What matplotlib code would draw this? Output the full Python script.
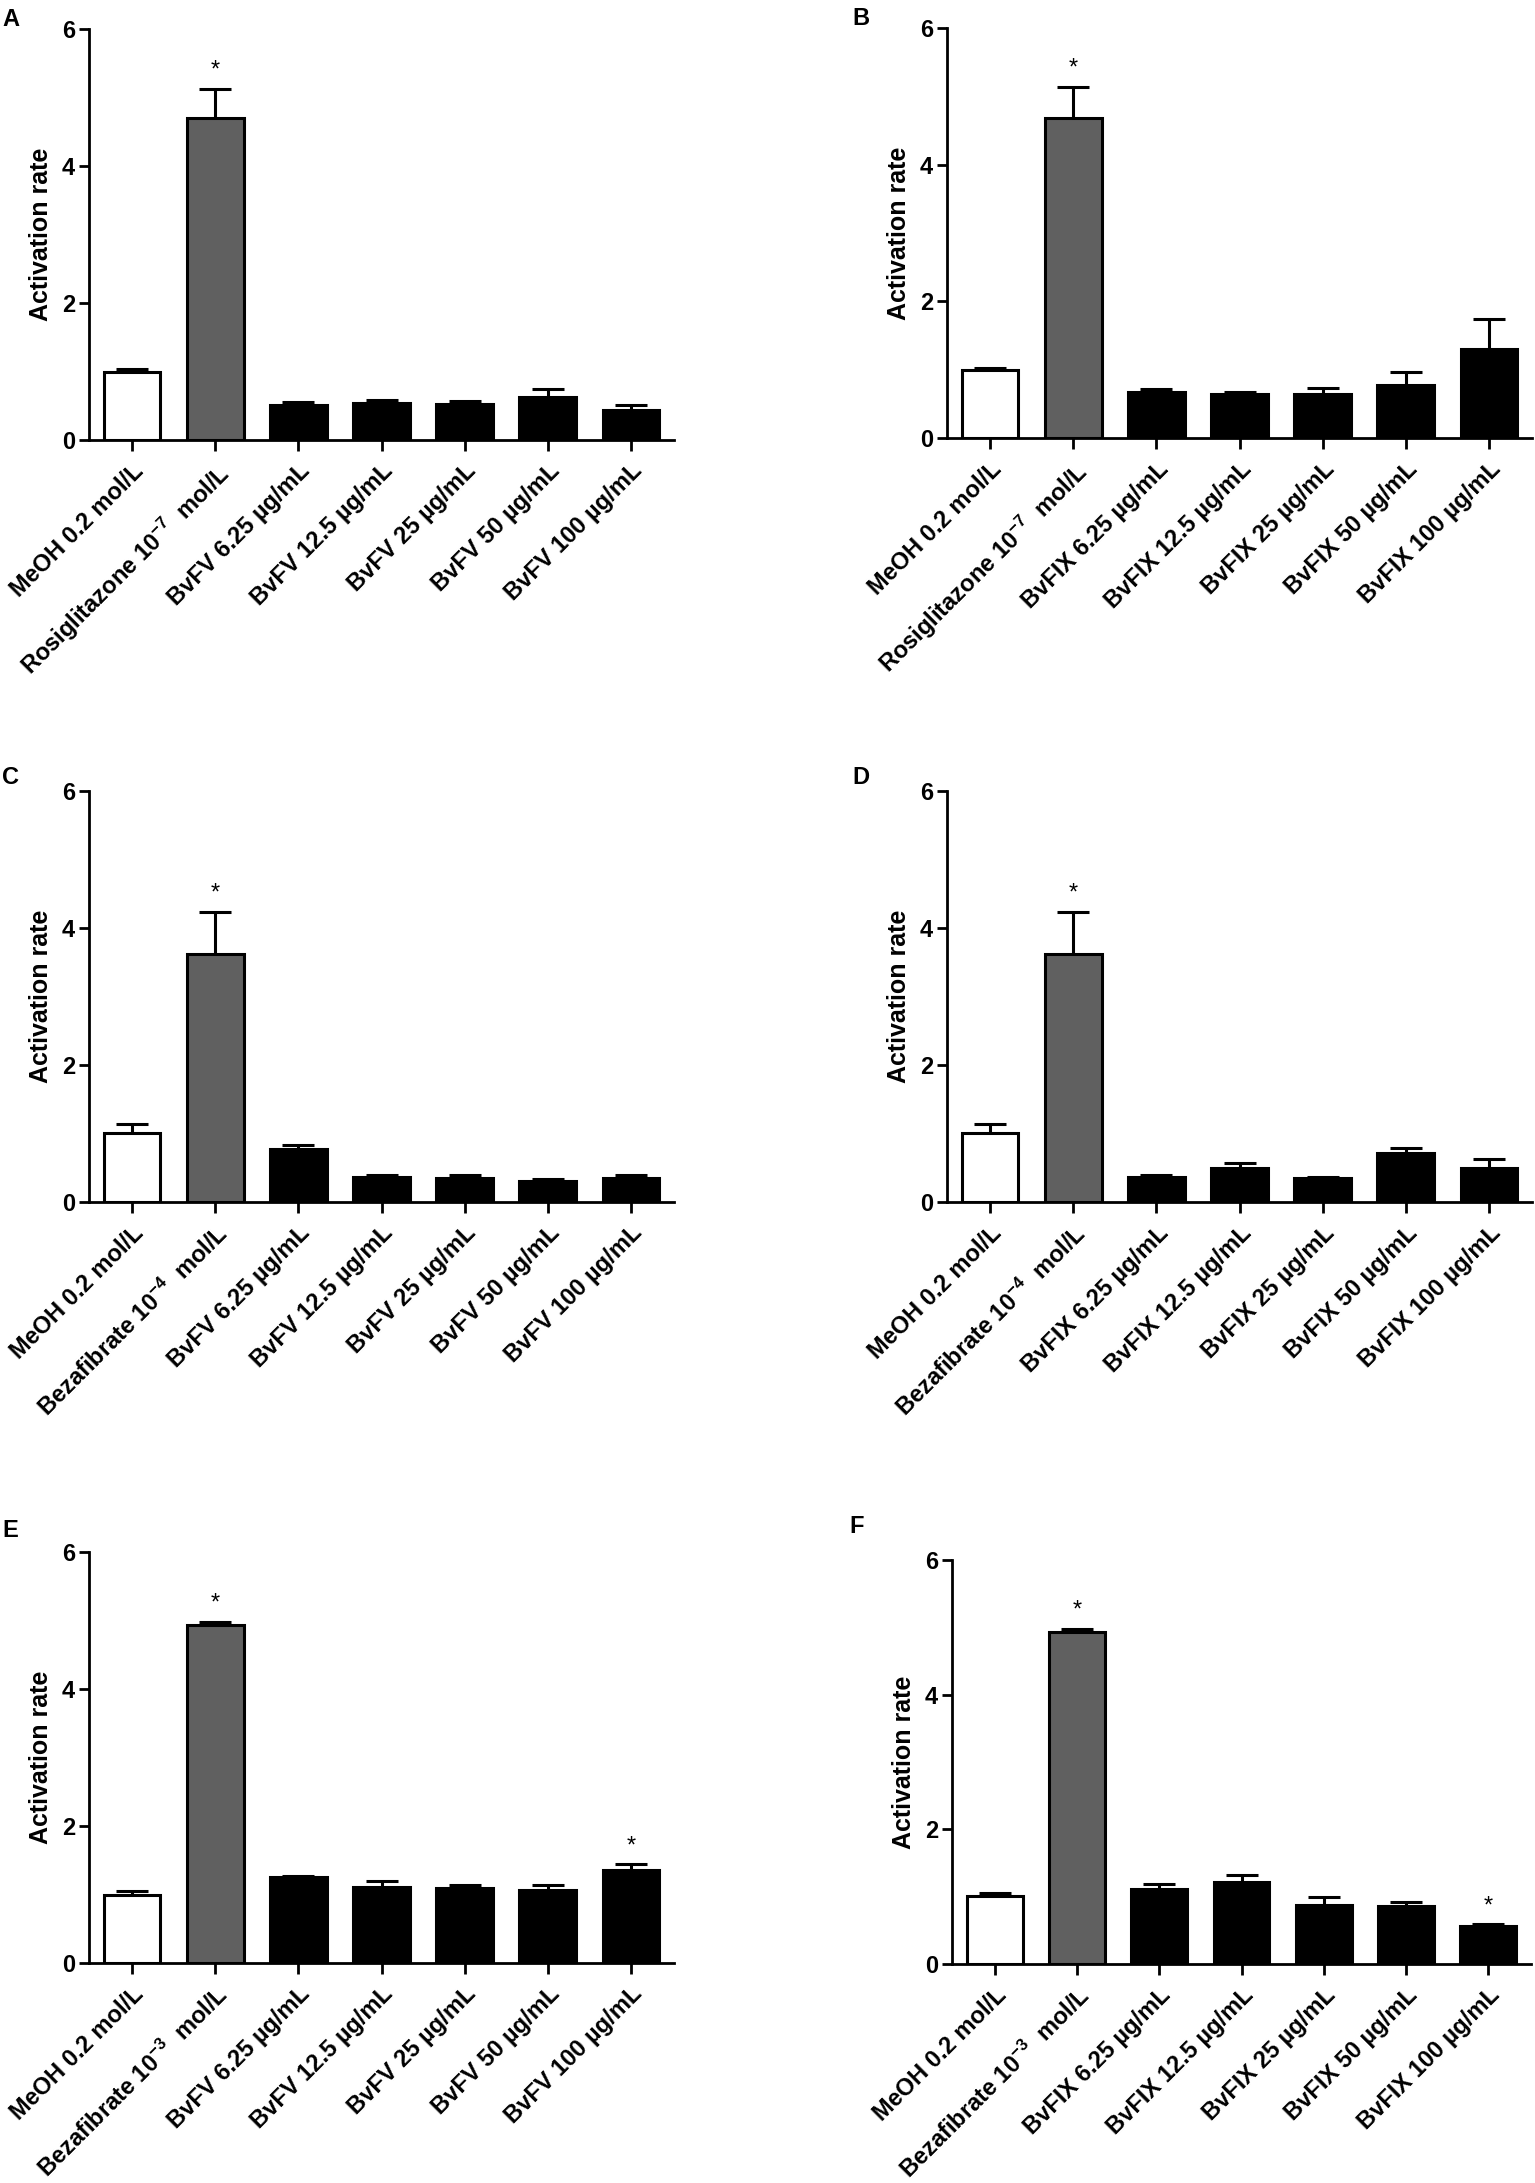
import matplotlib
matplotlib.use("Agg")
from matplotlib import pyplot as plt

# ---- data -------------------------------------------------------------
labels_fv_rosi = ["MeOH 0.2 mol/L", r"Rosiglitazone 10$^{-7}$  mol/L",
                  "BvFV 6.25 µg/mL", "BvFV 12.5 µg/mL", "BvFV 25 µg/mL",
                  "BvFV 50 µg/mL", "BvFV 100 µg/mL"]
labels_fix_rosi = ["MeOH 0.2 mol/L", r"Rosiglitazone 10$^{-7}$  mol/L",
                   "BvFIX 6.25 µg/mL", "BvFIX 12.5 µg/mL", "BvFIX 25 µg/mL",
                   "BvFIX 50 µg/mL", "BvFIX 100 µg/mL"]
labels_fv_beza4 = ["MeOH 0.2 mol/L", r"Bezafibrate 10$^{-4}$  mol/L"] + labels_fv_rosi[2:]
labels_fix_beza4 = ["MeOH 0.2 mol/L", r"Bezafibrate 10$^{-4}$  mol/L"] + labels_fix_rosi[2:]
labels_fv_beza3 = ["MeOH 0.2 mol/L", r"Bezafibrate 10$^{-3}$  mol/L"] + labels_fv_rosi[2:]
labels_fix_beza3 = ["MeOH 0.2 mol/L", r"Bezafibrate 10$^{-3}$  mol/L"] + labels_fix_rosi[2:]

mean_a = [1.00, 4.70, 0.51, 0.54, 0.53, 0.63, 0.44]
err_a = [0.03, 0.43, 0.04, 0.04, 0.04, 0.11, 0.07]
mean_b = [1.00, 4.69, 0.68, 0.65, 0.65, 0.78, 1.30]
err_b = [0.03, 0.45, 0.04, 0.03, 0.08, 0.19, 0.44]
mean_c = [1.01, 3.62, 0.77, 0.37, 0.35, 0.31, 0.35]
err_c = [0.13, 0.62, 0.06, 0.03, 0.05, 0.02, 0.05]
mean_d = [1.01, 3.62, 0.37, 0.49, 0.35, 0.72, 0.49]
err_d = [0.13, 0.62, 0.03, 0.08, 0.01, 0.07, 0.14]
mean_e = [1.00, 4.93, 1.25, 1.11, 1.10, 1.07, 1.36]
err_e = [0.05, 0.05, 0.02, 0.08, 0.04, 0.07, 0.08]
mean_f = [1.01, 4.93, 1.12, 1.22, 0.88, 0.86, 0.57]
err_f = [0.05, 0.05, 0.07, 0.10, 0.12, 0.06, 0.02]

stars_abcd = [1]
stars_ef = [1, 6]

# ---- style ------------------------------------------------------------
plt.rcParams["font.family"] = ["Liberation Sans", "DejaVu Sans"]
plt.rcParams["font.weight"] = "bold"
plt.rcParams["mathtext.fontset"] = "custom"
plt.rcParams["mathtext.rm"] = "Liberation Sans:bold"
plt.rcParams["mathtext.it"] = "Liberation Sans:bold"
plt.rcParams["mathtext.bf"] = "Liberation Sans:bold"
plt.rcParams["mathtext.default"] = "rm"

W, H = 1535, 2183
fig = plt.figure(figsize=(W / 100, H / 100), dpi=100)

bar_colors = ["white", "#606060"] + ["black"] * 5


def add_panel(left, right, top, bottom, letter, lx, ly, labels, means, errs, stars):
    ax = fig.add_axes([left / W, 1 - bottom / H, (right - left) / W, (bottom - top) / H])
    x = list(range(len(means)))
    ax.errorbar(x, means, yerr=errs, fmt="none", ecolor="black",
                elinewidth=2.2, capsize=11.5, capthick=2.2, zorder=1)
    ax.bar(x, means, width=0.68, color=bar_colors, edgecolor="black",
           linewidth=2.2, zorder=2)
    for i in stars:
        ax.text(i, means[i] + errs[i] + 0.1, "*", ha="center", va="bottom",
                fontsize=17, fontweight="normal")
    ax.set_xlim(-0.52, 6.52)
    ax.set_ylim(0, 6)
    ax.set_yticks([0, 2, 4, 6])
    ax.set_xticks(x)
    ax.set_xticklabels(labels, rotation=45, ha="right", rotation_mode="anchor",
                       fontsize=17, fontweight="bold")
    ax.tick_params(axis="x", length=8, width=2, pad=6)
    ax.tick_params(axis="y", length=7, width=2, pad=3, labelsize=17)
    for s in ["top", "right"]:
        ax.spines[s].set_visible(False)
    for s in ["left", "bottom"]:
        ax.spines[s].set_linewidth(2)
    ax.set_ylabel("Activation rate", fontsize=18, fontweight="bold")
    ax.yaxis.set_label_coords(-0.062, 0.5)
    fig.text(lx / W, 1 - ly / H, letter, ha="left", va="top",
             fontsize=17, fontweight="bold")
    return ax


add_panel(89, 674, 29, 440, "A", 2, 8, labels_fv_rosi, mean_a, err_a, stars_abcd)
add_panel(947, 1532, 28, 438, "B", 852, 7, labels_fix_rosi, mean_b, err_b, stars_abcd)
add_panel(89, 674, 791, 1202, "C", 2, 766, labels_fv_beza4, mean_c, err_c, stars_abcd)
add_panel(947, 1532, 791, 1202, "D", 852, 766, labels_fix_beza4, mean_d, err_d, stars_abcd)
add_panel(89, 674, 1552, 1963, "E", 2, 1519, labels_fv_beza3, mean_e, err_e, stars_ef)
add_panel(952, 1531, 1560, 1964, "F", 849, 1515, labels_fix_beza3, mean_f, err_f, stars_ef)

fig.savefig("out.png", dpi=100, facecolor="white")
